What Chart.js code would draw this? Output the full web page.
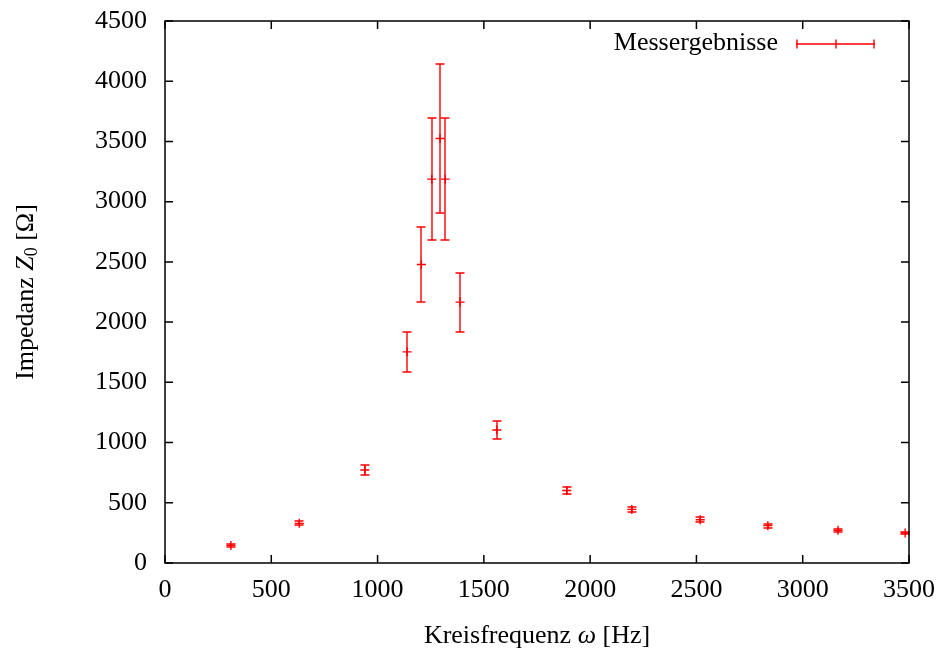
<!DOCTYPE html>
<html>
<head>
<meta charset="utf-8">
<script src="https://cdn.jsdelivr.net/npm/chart.js@4"></script>
<style>
    html, body { margin: 0; padding: 0; background: #fff; }
    #wrap { width: 947px; height: 657px; }
</style>
</head>
<body>
<div id="wrap"><canvas id="impedanceChart" width="947" height="657"></canvas></div>
<script>
const omega = [310, 632, 940, 1139, 1206, 1255, 1294, 1318, 1388, 1561, 1890, 2196, 2518, 2836, 3166, 3482];
const impedance = [146, 329, 772, 1753, 2478, 3187, 3524, 3187, 2166, 1104, 602, 445, 359, 310, 271, 249];
const impedanceError = [12, 17, 41, 165, 314, 509, 620, 509, 245, 72, 32, 24, 20, 17, 14, 12];
const xTicks = [0, 500, 1000, 1500, 2000, 2500, 3000, 3500];
const yTicks = [0, 500, 1000, 1500, 2000, 2500, 3000, 3500, 4000, 4500];
const seriesLabel = 'Messergebnisse';

const FONT = '"Liberation Serif", "Times New Roman", serif';
const RED = '#ff0000';

function fixedTicks(values) {
    return (scale) => {
        scale.ticks = values.map((v) => ({ value: v }));
    };
}

const gnuplotFrame = {
    id: 'gnuplotFrame',
    beforeDatasetsDraw(chart) {
        const { ctx, scales: { x, y } } = chart;
        const ds = chart.data.datasets[0];
        ctx.save();
        ctx.strokeStyle = RED;
        ctx.lineWidth = 1.4;
        ds.data.forEach((p, i) => {
            const px = Math.round(x.getPixelForValue(p.x));
            const top = Math.round(y.getPixelForValue(p.y + ds.errors[i]));
            const bot = Math.round(y.getPixelForValue(p.y - ds.errors[i]));
            ctx.beginPath();
            ctx.moveTo(px, top);
            ctx.lineTo(px, bot);
            ctx.moveTo(px - 4.5, top);
            ctx.lineTo(px + 4.5, top);
            ctx.moveTo(px - 4.5, bot);
            ctx.lineTo(px + 4.5, bot);
            ctx.stroke();
        });
        ctx.restore();
    },
    afterDraw(chart) {
        const { ctx, chartArea: a, scales: { x, y } } = chart;
        ctx.save();
        ctx.strokeStyle = '#000';
        ctx.lineWidth = 1.5;
        ctx.strokeRect(a.left, a.top, a.right - a.left, a.bottom - a.top);

        const tick = 8;
        ctx.beginPath();
        xTicks.forEach((v) => {
            const px = x.getPixelForValue(v);
            ctx.moveTo(px, a.bottom);
            ctx.lineTo(px, a.bottom - tick);
            ctx.moveTo(px, a.top);
            ctx.lineTo(px, a.top + tick);
        });
        yTicks.forEach((v) => {
            const py = y.getPixelForValue(v);
            ctx.moveTo(a.left, py);
            ctx.lineTo(a.left + tick, py);
            ctx.moveTo(a.right, py);
            ctx.lineTo(a.right - tick, py);
        });
        ctx.stroke();

        // legend
        ctx.fillStyle = '#000';
        ctx.font = `26px ${FONT}`;
        ctx.textAlign = 'right';
        ctx.textBaseline = 'middle';
        ctx.fillText(seriesLabel, 778, 43);
        ctx.strokeStyle = RED;
        ctx.lineWidth = 1.4;
        const ly = 44;
        ctx.beginPath();
        ctx.moveTo(796, ly);
        ctx.lineTo(875, ly);
        ctx.moveTo(797, ly - 4.5);
        ctx.lineTo(797, ly + 4.5);
        ctx.moveTo(874, ly - 4.5);
        ctx.lineTo(874, ly + 4.5);
        ctx.moveTo(836, ly - 4.5);
        ctx.lineTo(836, ly + 4.5);
        ctx.stroke();

        // axis titles with italic symbols
        const drawParts = (parts, cx, cy) => {
            let total = 0;
            parts.forEach((p) => {
                ctx.font = p.font;
                p.w = ctx.measureText(p.text).width;
                total += p.w;
            });
            let cur = cx - total / 2;
            ctx.textAlign = 'left';
            ctx.textBaseline = 'alphabetic';
            parts.forEach((p) => {
                ctx.font = p.font;
                ctx.fillText(p.text, cur, cy + (p.dy || 0));
                cur += p.w;
            });
        };
        ctx.fillStyle = '#000';
        drawParts([
            { text: 'Kreisfrequenz ', font: `26px ${FONT}` },
            { text: 'ω', font: `italic 26px ${FONT}` },
            { text: ' [Hz]', font: `26px ${FONT}` },
        ], (a.left + a.right) / 2, 643);

        ctx.translate(33, (a.top + a.bottom) / 2);
        ctx.rotate(-Math.PI / 2);
        drawParts([
            { text: 'Impedanz ', font: `26px ${FONT}` },
            { text: 'Z', font: `italic 26px ${FONT}` },
            { text: '0', font: `18px ${FONT}`, dy: 4 },
            { text: ' [Ω]', font: `26px ${FONT}` },
        ], 0, 0);
        ctx.restore();
    },
};

new Chart(document.getElementById('impedanceChart'), {
    type: 'scatter',
    data: {
        datasets: [
            {
                label: seriesLabel,
                data: omega.map((w, i) => ({ x: w, y: impedance[i] })),
                errors: impedanceError,
                pointStyle: 'cross',
                pointRadius: 4.5,
                borderColor: RED,
                backgroundColor: RED,
                borderWidth: 1.4,
            },
        ],
    },
    plugins: [gnuplotFrame],
    options: {
        responsive: false,
        animation: false,
        layout: { padding: { top: 21, right: 38, left: 0, bottom: 0 } },
        scales: {
            x: {
                type: 'linear',
                min: 0,
                max: 3500,
                afterBuildTicks: fixedTicks(xTicks),
                afterFit(scale) {
                    scale.height = 94;
                    scale.paddingLeft = 0;
                    scale.paddingRight = 0;
                },
                grid: { display: false, drawTicks: false },
                border: { display: false },
                ticks: {
                    padding: 12,
                    color: '#000',
                    font: { family: FONT, size: 26 },
                    maxRotation: 0,
                    callback: (v) => String(v),
                },
            },
            y: {
                type: 'linear',
                min: 0,
                max: 4500,
                afterBuildTicks: fixedTicks(yTicks),
                afterFit(scale) {
                    scale.width = 165;
                    scale.paddingTop = 0;
                    scale.paddingBottom = 0;
                },
                grid: { display: false, drawTicks: false },
                border: { display: false },
                ticks: {
                    padding: 18,
                    color: '#000',
                    font: { family: FONT, size: 26 },
                    callback: (v) => String(v),
                },
            },
        },
        plugins: {
            legend: { display: false },
            tooltip: { enabled: false },
        },
    },
});
</script>
</body>
</html>
